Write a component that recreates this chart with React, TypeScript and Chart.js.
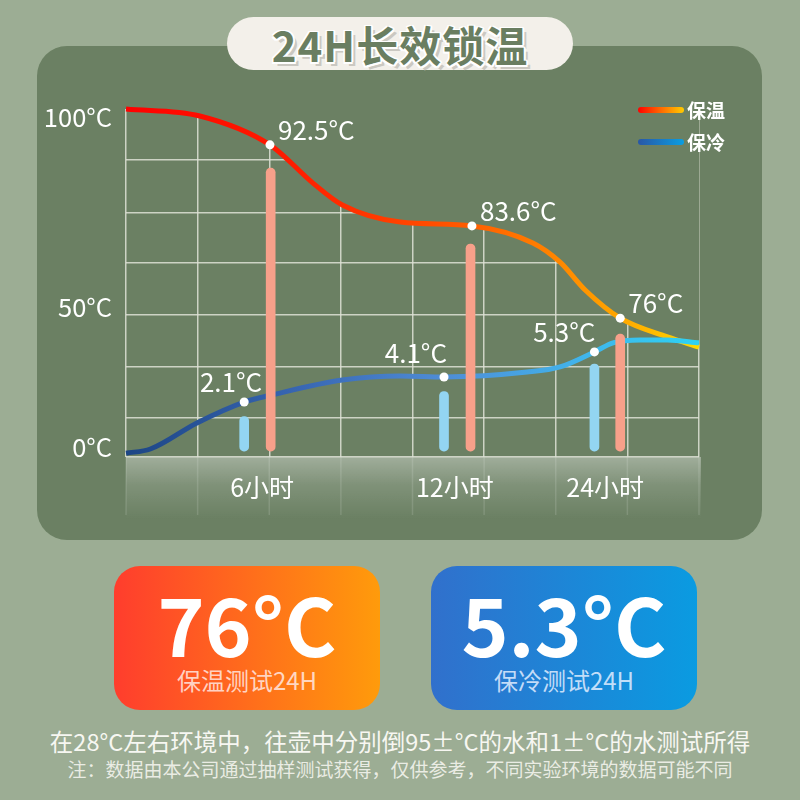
import { useEffect, useRef } from "react";
import Chart from "chart.js/auto";

const FONT = '"Noto Sans CJK SC", "Noto Sans", sans-serif';
const PAGE_BG = "#9cad94";
const PANEL = "#6b8063";
const GRID = "rgba(222, 226, 214, 0.85)";

// x runs over the 8 grid columns, y is the plot height (0 = baseline, 100 = top)
const hotX = [0, 1.03, 2.01, 2.61, 3.02, 3.83, 4.83, 5.68, 6.06, 6.41, 6.9, 7.56, 8];
const hotY = [100, 98.0, 89.7, 78.7, 72.4, 67.5, 66.4, 61.5, 56.0, 48.0, 39.9, 34.5, 31.6];
const coldX = [0, 0.34, 0.99, 1.65, 2.03, 3.02, 3.83, 4.44, 5.6, 6.06, 6.54, 6.8, 7.18, 7.56, 8];
const coldY = [1.1, 2.3, 9.8, 15.8, 17.8, 22.1, 23.3, 23.0, 24.4, 25.9, 30.2, 32.8, 33.6, 33.6, 32.8];

// marked readings
const hotMarkX = [2.01, 4.83, 6.9];
const hotMarkY = [89.7, 66.4, 39.9];
const hotMarkLabels = ["92.5°C", "83.6°C", "76°C"];
const coldMarkX = [1.65, 4.44, 6.54];
const coldMarkY = [15.8, 23.0, 30.2];
const coldMarkLabels = ["2.1°C", "4.1°C", "5.3°C"];

// thermometer bars
const barBase = 1.7;
const hotBarX = [2.02, 4.81, 6.9];
const hotBarTop = [83.0, 61.2, 35.3];
const coldBarX = [1.65, 4.44, 6.54];
const coldBarTop = [11.6, 18.8, 26.7];

// axes
const xGridValues = [0, 1, 2, 3, 4, 5, 6, 7, 8];
const xLabelPos = [1.9, 4.59, 6.69];
const xLabels = ["6小时", "12小时", "24小时"];
const yGridValues = [0, 11.2, 25.9, 40.8, 55.7, 70.2, 85.3];
const yLabelPos = [2.9, 43.1, 97.7];
const yLabels = ["0°C", "50°C", "100°C"];

const coldLabelDx = [18, 3, 1];

const hGradient = (chart: any, stops: [number, string][]) => {
  const a = chart.chartArea;
  if (!a) return stops[0][1];
  const g = chart.ctx.createLinearGradient(a.left, 0, a.right, 0);
  stops.forEach(([o, c]) => g.addColorStop(o, c));
  return g;
};

const decor = {
  id: "decor",
  beforeDraw(chart: any) {
    const { ctx, chartArea: a, scales } = chart;
    ctx.save();
    const g = ctx.createLinearGradient(0, a.bottom, 0, a.bottom + 62);
    g.addColorStop(0, "rgba(255,255,255,0.36)");
    g.addColorStop(0.45, "rgba(255,255,255,0.14)");
    g.addColorStop(1, "rgba(255,255,255,0)");
    ctx.fillStyle = g;
    ctx.fillRect(a.left, a.bottom, a.right - a.left + 2, 62);
    ctx.strokeStyle = "rgba(255,255,255,0.13)";
    ctx.lineWidth = 1.5;
    xGridValues.forEach((v) => {
      const x = scales.x.getPixelForValue(v);
      ctx.beginPath();
      ctx.moveTo(x, a.bottom);
      ctx.lineTo(x, a.bottom + 58);
      ctx.stroke();
    });
    ctx.restore();
  },
  afterDatasetsDraw(chart: any) {
    const { ctx } = chart;
    ctx.save();
    ctx.fillStyle = "#ffffff";
    ctx.font = `26px ${FONT}`;
    ctx.textBaseline = "middle";
    const hot = chart.getDatasetMeta(4).data;
    ctx.textAlign = "left";
    hot.forEach((p: any, i: number) => ctx.fillText(hotMarkLabels[i], p.x + 8, p.y - 15));
    const cold = chart.getDatasetMeta(5).data;
    ctx.textAlign = "right";
    cold.forEach((p: any, i: number) =>
      ctx.fillText(coldMarkLabels[i], p.x + coldLabelDx[i], p.y - (i === 1 ? 24 : 20))
    );
    ctx.restore();
  },
};

const TempChart = () => {
  const canvasRef = useRef<HTMLCanvasElement>(null);
  const chartRef = useRef<Chart>();

  useEffect(() => {
    if (!canvasRef.current) return;
    if (chartRef.current) chartRef.current.destroy();

    const markerStyle = {
      type: "line" as const,
      showLine: false,
      pointRadius: 4.5,
      pointBackgroundColor: "#ffffff",
      pointBorderWidth: 0,
      order: 0,
      clip: false as const,
    };

    chartRef.current = new Chart(canvasRef.current, {
      type: "line",
      data: {
        datasets: [
          {
            type: "line",
            data: hotX.map((x, i) => ({ x, y: hotY[i] })),
            borderColor: (c: any) =>
              hGradient(c.chart, [
                [0, "#ff0000"],
                [0.3, "#ff1e00"],
                [0.55, "#ff5000"],
                [0.75, "#ff8500"],
                [0.88, "#ffad00"],
                [1, "#ffd800"],
              ]),
            borderWidth: 5,
            pointRadius: 0,
            cubicInterpolationMode: "monotone",
            fill: "end",
            backgroundColor: PANEL,
            clip: false,
            order: 5,
          },
          {
            type: "line",
            data: coldX.map((x, i) => ({ x, y: coldY[i] })),
            borderColor: (c: any) =>
              hGradient(c.chart, [
                [0, "#1c4585"],
                [0.3, "#3866b2"],
                [0.55, "#4e8cd6"],
                [0.78, "#42b2ea"],
                [1, "#2dd2f4"],
              ]),
            borderWidth: 5,
            pointRadius: 0,
            cubicInterpolationMode: "monotone",
            clip: false,
            order: 4,
          },
          {
            type: "bar",
            data: coldBarX.map((x, i) => ({ x, y: [barBase, coldBarTop[i]] })),
            backgroundColor: "#93d5f2",
            barThickness: 9,
            borderRadius: 5,
            borderSkipped: false,
            grouped: false,
            order: 3,
          },
          {
            type: "bar",
            data: hotBarX.map((x, i) => ({ x, y: [barBase, hotBarTop[i]] })),
            backgroundColor: "#f7a08a",
            barThickness: 9,
            borderRadius: 5,
            borderSkipped: false,
            grouped: false,
            order: 2,
          },
          { ...markerStyle, data: hotMarkX.map((x, i) => ({ x, y: hotMarkY[i] })) },
          { ...markerStyle, data: coldMarkX.map((x, i) => ({ x, y: coldMarkY[i] })) },
        ] as any,
      },
      options: {
        animation: false,
        responsive: false,
        layout: { padding: { left: 0, right: 101, top: 109, bottom: 0 } },
        plugins: { legend: { display: false }, tooltip: { enabled: false } },
        scales: {
          x: {
            type: "linear",
            min: 0,
            max: 8,
            offset: false,
            border: { display: false },
            afterFit: (s: any) => {
              s.height = 103;
            },
            afterBuildTicks: (s: any) => {
              s.ticks = [...xGridValues, ...xLabelPos].map((value) => ({ value }));
            },
            grid: {
              offset: false,
              drawTicks: false,
              lineWidth: 1.5,
              color: (c: any) => (c.index < xGridValues.length ? GRID : "transparent"),
            },
            ticks: {
              autoSkip: false,
              maxRotation: 0,
              padding: 15,
              color: "#ffffff",
              font: { family: FONT, size: 25 },
              callback: (_v: any, i: number) =>
                i >= xGridValues.length ? xLabels[i - xGridValues.length] : "",
            },
          },
          y: {
            type: "linear",
            min: 0,
            max: 100,
            border: { display: false },
            afterFit: (s: any) => {
              s.width = 126;
            },
            afterBuildTicks: (s: any) => {
              s.ticks = [...yGridValues, ...yLabelPos].map((value) => ({ value }));
            },
            grid: {
              offset: false,
              drawTicks: false,
              lineWidth: 1.5,
              color: (c: any) => (c.index < yGridValues.length ? GRID : "transparent"),
            },
            ticks: {
              autoSkip: false,
              padding: 14,
              color: "#ffffff",
              font: { family: FONT, size: 25.5 },
              callback: (_v: any, i: number) =>
                i >= yGridValues.length ? yLabels[i - yGridValues.length] : "",
            },
          },
        },
      },
      plugins: [decor],
    });

    return () => {
      if (chartRef.current) {
        chartRef.current.destroy();
        chartRef.current = undefined;
      }
    };
  }, []);

  return (
    <canvas
      ref={canvasRef}
      width={800}
      height={560}
      style={{ position: "absolute", left: 0, top: 0, width: 800, height: 560 }}
    />
  );
};

const legendItem = (top: number, gradient: string, label: string) => (
  <div style={{ position: "absolute", left: 638, top, height: 22, display: "flex", alignItems: "center" }}>
    <div style={{ width: 46, height: 6, borderRadius: 3, background: gradient }} />
    <span style={{ marginLeft: 3, color: "#fff", fontSize: 19, fontWeight: 700, lineHeight: "22px" }}>{label}</span>
  </div>
);

const card = (left: number, gradient: string, value: string, caption: string, captionColor: string) => (
  <div
    style={{
      position: "absolute",
      left,
      top: 566,
      width: 266,
      height: 144,
      borderRadius: 26,
      background: gradient,
    }}
  >
    <div
      style={{
        position: "absolute",
        left: 0,
        top: 16,
        width: "100%",
        textAlign: "center",
        color: "#fff",
        fontSize: 80,
        fontWeight: 700,
        lineHeight: "80px",
      }}
    >
      {value}
    </div>
    <div
      style={{
        position: "absolute",
        left: 0,
        top: 102,
        width: "100%",
        textAlign: "center",
        color: captionColor,
        fontSize: 24,
        lineHeight: "24px",
      }}
    >
      {caption}
    </div>
  </div>
);

export default function App() {
  return (
    <div
      style={{
        position: "absolute",
        left: 0,
        top: 0,
        width: 800,
        height: 800,
        overflow: "hidden",
        background: PAGE_BG,
        fontFamily: FONT,
      }}
    >
      <div
        style={{
          position: "absolute",
          left: 37,
          top: 46,
          width: 725,
          height: 494,
          borderRadius: 30,
          background: PANEL,
        }}
      />
      <div
        style={{
          position: "absolute",
          left: 227,
          top: 17,
          width: 346,
          height: 53,
          borderRadius: 27,
          background: "#f3f0ea",
          display: "flex",
          alignItems: "center",
          justifyContent: "center",
        }}
      >
        <span
          style={{
            fontSize: 42,
            fontWeight: 700,
            lineHeight: "53px",
            letterSpacing: 1,
            color: "#6a7e61",
            textShadow:
              "-1.5px -1.5px 0 #fff, 1.5px -1.5px 0 #fff, -1.5px 1.5px 0 #fff, 1.5px 1.5px 0 #fff, 0 2px 0 #fff, 2px 0 0 #fff, 4px 4px 0 #cbc8c1",
          }}
        >
          24H长效锁温
        </span>
      </div>
      <TempChart />
      {legendItem(99, "linear-gradient(90deg, #ff0000, #ff6a00, #ffcc00)", "保温")}
      {legendItem(131, "linear-gradient(90deg, #2957a5, #0a9ee2)", "保冷")}
      {card(114, "linear-gradient(90deg, #ff3d2d, #ff9b0b)", "76°C", "保温测试24H", "rgba(255,232,226,0.85)")}
      {card(431, "linear-gradient(90deg, #3170cc, #0a9be1)", "5.3°C", "保冷测试24H", "rgba(226,238,255,0.85)")}
      <div
        style={{
          position: "absolute",
          left: 0,
          top: 728,
          width: 800,
          textAlign: "center",
          color: "#f7f7f2",
          fontSize: 23.5,
          lineHeight: "26px",
        }}
      >
        在28°C左右环境中，往壶中分别倒95±°C的水和1±°C的水测试所得
      </div>
      <div
        style={{
          position: "absolute",
          left: 0,
          top: 758,
          width: 800,
          textAlign: "center",
          color: "rgba(246,246,240,0.88)",
          fontSize: 19,
          lineHeight: "22px",
        }}
      >
        注：数据由本公司通过抽样测试获得，仅供参考，不同实验环境的数据可能不同
      </div>
    </div>
  );
}
